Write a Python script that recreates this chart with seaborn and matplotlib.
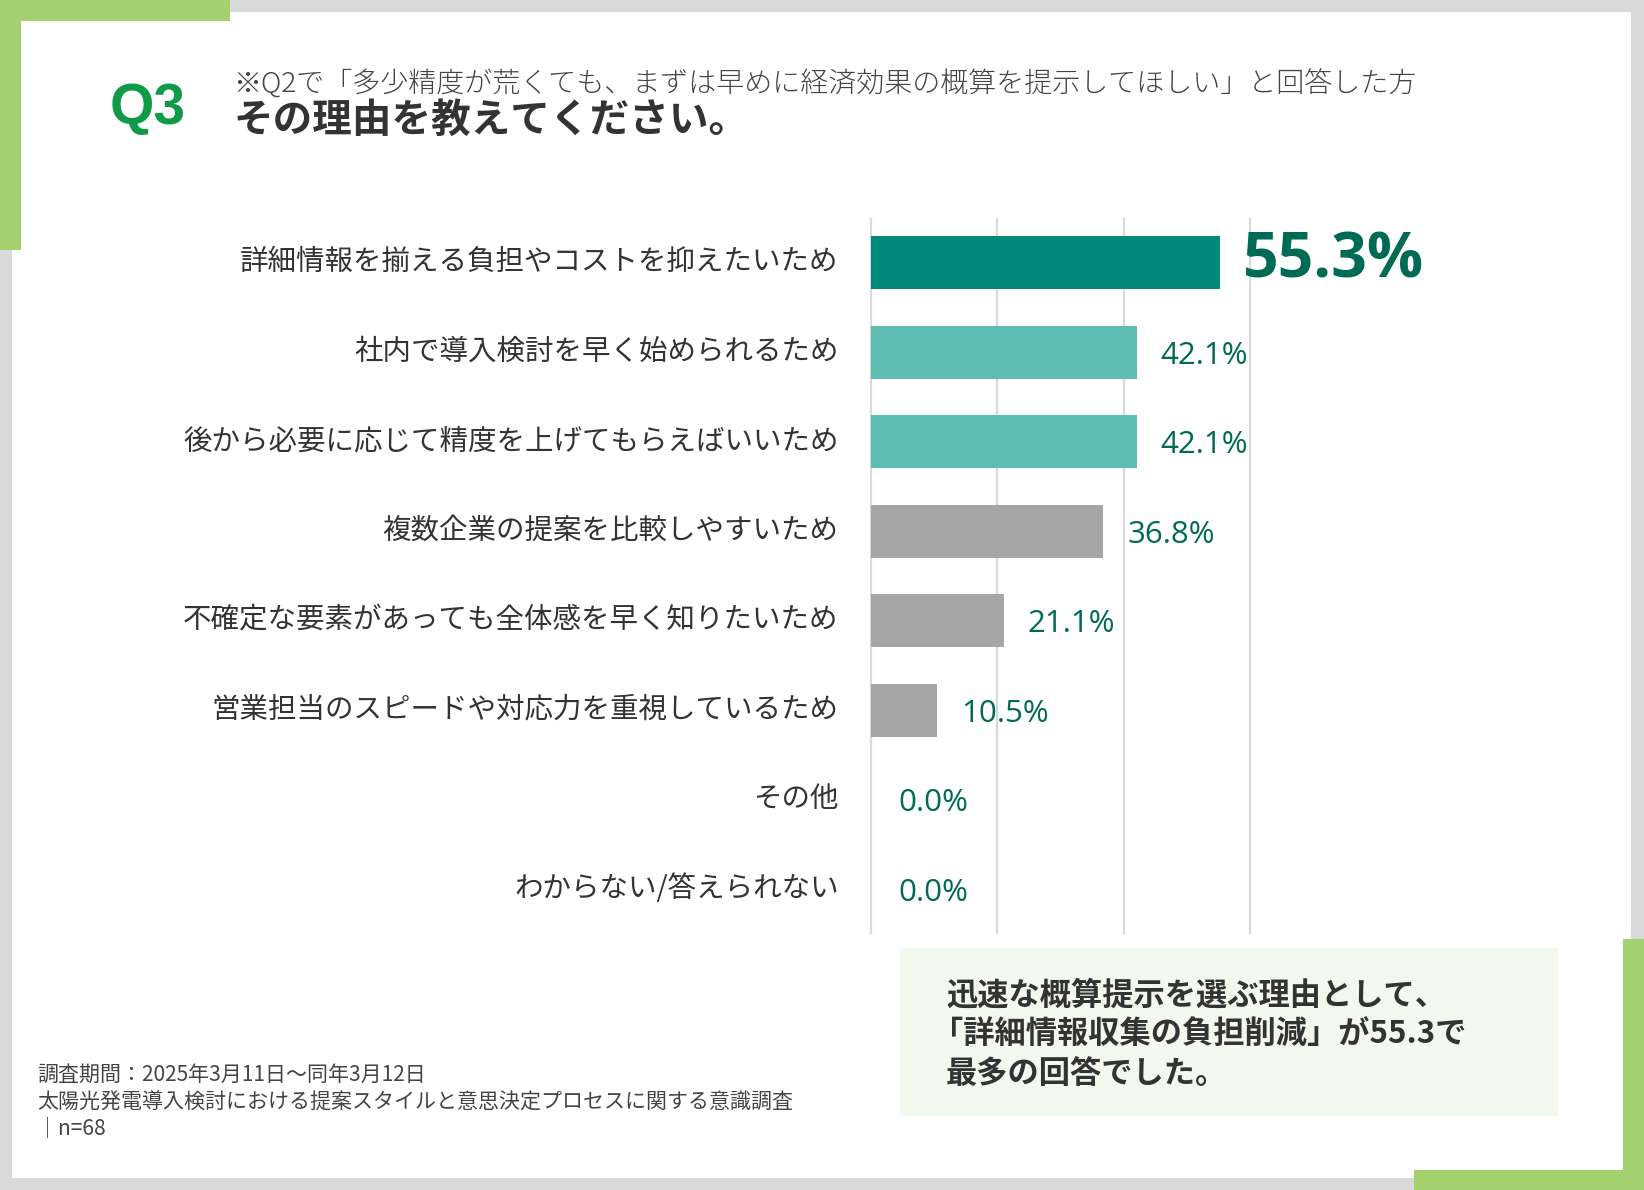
import matplotlib
matplotlib.use("Agg")
import matplotlib.pyplot as plt
from matplotlib.patches import Rectangle
from matplotlib.transforms import ScaledTranslation
import seaborn as sns

# data
reasons = [
    "詳細情報を揃える負担やコストを抑えたいため",
    "社内で導入検討を早く始められるため",
    "後から必要に応じて精度を上げてもらえばいいため",
    "複数企業の提案を比較しやすいため",
    "不確定な要素があっても全体感を早く知りたいため",
    "営業担当のスピードや対応力を重視しているため",
    "その他",
    "わからない/答えられない",
]
shares = [55.3, 42.1, 42.1, 36.8, 21.1, 10.5, 0.0, 0.0]
bar_colors = ["#00897b", "#5ebdb2", "#5ebdb2", "#a6a6a6", "#a6a6a6",
              "#a6a6a6", "#a6a6a6", "#a6a6a6"]
grid_ticks = [0, 20, 40, 60]

subtitle = "※Q2で「多少精度が荒くても、まずは早めに経済効果の概算を提示してほしい」と回答した方"
title = "その理由を教えてください。"
note_lines = ["調査期間：2025年3月11日～同年3月12日",
              "太陽光発電導入検討における提案スタイルと意思決定プロセスに関する意識調査",
              "｜n=68"]
box_lines = ["迅速な概算提示を選ぶ理由として、",
             "「詳細情報収集の負担削減」が55.3で",
             "最多の回答でした。"]

sns.set_style("white")
plt.rcParams["font.family"] = ["Noto Sans CJK JP", "DejaVu Sans"]

W, H = 1644, 1190
fig = plt.figure(figsize=(W / 100, H / 100), dpi=100, facecolor="#d9d9d9")


def fx(px):
    return px / W


def fy(py):
    return 1 - py / H


def rect(x0, y0, x1, y1, color, z=0):
    fig.add_artist(Rectangle((fx(x0), fy(y1)), fx(x1) - fx(x0), fy(y0) - fy(y1),
                             transform=fig.transFigure, facecolor=color,
                             edgecolor="none", zorder=z))


# card and green corner accents
rect(12, 12, 1631, 1178, "white")
rect(0, 0, 230, 21, "#a5d06f")
rect(0, 0, 21, 250, "#a5d06f")
rect(1623, 939, 1644, 1190, "#a5d06f")
rect(1414, 1170, 1644, 1190, "#a5d06f")
rect(900, 948, 1558, 1116, "#f3f8ee")

# chart (a little slack on both sides so the edge gridlines are not clipped)
pad = 0.3 * 6.317
ax = fig.add_axes([fx(871 - pad), fy(934), fx(1250 + pad) - fx(871 - pad),
                   fy(218) - fy(934)])
ax.set_zorder(2)
ax.patch.set_alpha(0)
sns.barplot(x=shares, y=reasons, hue=reasons, palette=bar_colors, legend=False,
            orient="h", width=0.59, ax=ax, saturation=1, linewidth=0)
ax.set_xlim(-0.3, 60.3)
ax.set_ylim(7.5, -0.5)
ax.set_xticks(grid_ticks)
ax.set_xticklabels([])
ax.xaxis.grid(True, color="#d9d9d9", linewidth=1.6)
ax.set_axisbelow(True)
for s in ax.spines.values():
    s.set_visible(False)
ax.tick_params(axis="both", length=0)
ax.tick_params(axis="y", pad=22, labelsize=20.5, labelcolor="#333333")
ax.set_xlabel("")
ax.set_ylabel("")
shift_up = ScaledTranslation(0, 4 / 100, fig.dpi_scale_trans)
for lab in ax.get_yticklabels():
    lab.set_transform(lab.get_transform() + shift_up)

for i, v in enumerate(shares):
    if i == 0:
        ax.annotate(f"{v:.1f}%", xy=(v, i), xytext=(16, 1), textcoords="offset points",
                    ha="left", va="center", fontsize=45, fontweight="bold",
                    color="#006b55", family=["Open Sans", "DejaVu Sans"],
                    annotation_clip=False)
    else:
        ax.annotate(f"{v:.1f}%", xy=(v, i), xytext=(17 if v > 0 else 20, -2.5),
                    textcoords="offset points", ha="left", va="center",
                    fontsize=22.5, color="#006b55", family=["Open Sans", "DejaVu Sans"],
                    annotation_clip=False)

# header
fig.text(fx(110), fy(124), "Q3", fontsize=41, fontweight="bold", color="#109a48",
         family=["Liberation Sans", "DejaVu Sans"], va="baseline", ha="left")
fig.text(fx(233), fy(84), subtitle, fontsize=20.2, color="#444444", fontweight="light",
         va="center", ha="left")
fig.text(fx(233), fy(120), title, fontsize=28.5, fontweight="bold", color="#333333",
         va="center", ha="left")

# footnote
for k, line in enumerate(note_lines):
    fig.text(fx(37), fy(1075 + 26.5 * k), line, fontsize=15.1, color="#444444",
             va="center", ha="left")

# summary box
for k, line in enumerate(box_lines):
    fig.text(fx(946 if k != 1 else 932), fy(996 + 39 * k), line, fontsize=22.5,
             fontweight="bold", color="#333333", va="center", ha="left")

fig.savefig("out.png", dpi=100, facecolor=fig.get_facecolor())
